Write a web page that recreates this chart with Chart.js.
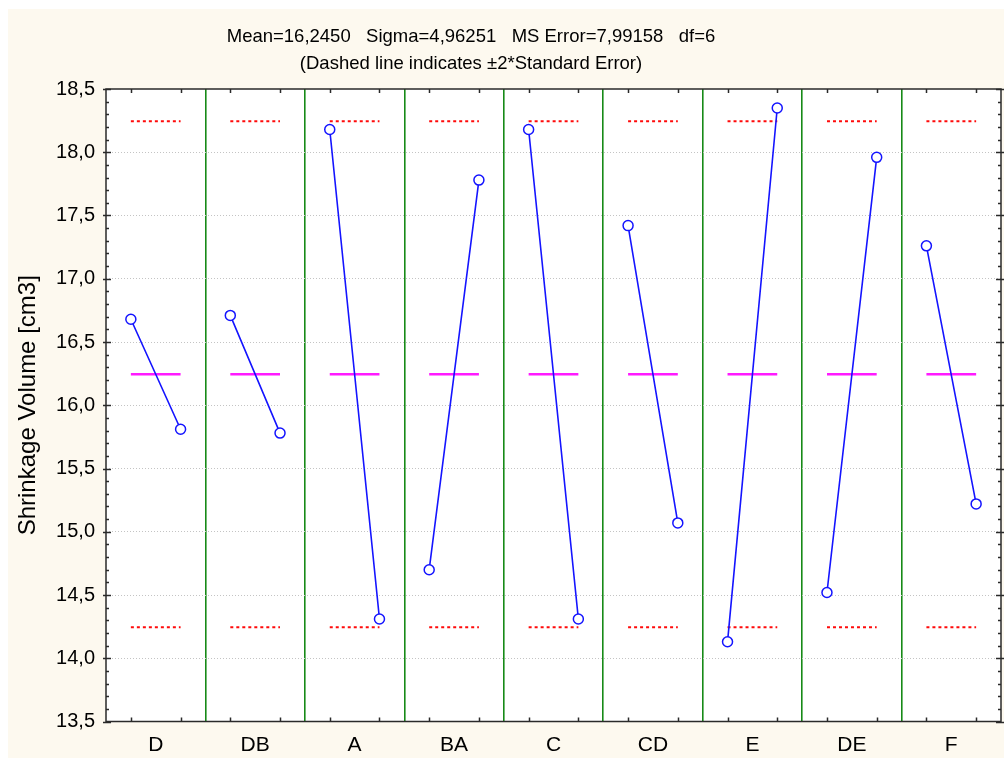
<!DOCTYPE html>
<html>
<head>
<meta charset="utf-8">
<title>Shrinkage Volume - means plot</title>
<script src="https://cdn.jsdelivr.net/npm/chart.js@4.4.1/dist/chart.umd.min.js"></script>
<style>
    body { margin: 0; background: #ffffff; }
    #meansChart { position: absolute; left: 8px; top: 9px; }
</style>
</head>
<body>
<canvas id="meansChart" width="996" height="749"></canvas>
<script>
// Factor levels
const factors = ['D', 'DB', 'A', 'BA', 'C', 'CD', 'E', 'DE', 'F'];
const lowLevelMeans = [16.68, 16.71, 18.18, 14.70, 18.18, 17.42, 14.13, 14.52, 17.26];
const highLevelMeans = [15.81, 15.78, 14.31, 17.78, 14.31, 15.07, 18.35, 17.96, 15.22];

const grandMean = 16.245;
const upperLimit = 18.245; // mean + 2*SE
const lowerLimit = 14.245; // mean - 2*SE

const yTickValues = [13.5, 14.0, 14.5, 15.0, 15.5, 16.0, 16.5, 17.0, 17.5, 18.0, 18.5];
const titleLines = [
    'Mean=16,2450   Sigma=4,96251   MS Error=7,99158   df=6',
    '(Dashed line indicates \u00b12*Standard Error)'
];
const yAxisTitle = 'Shrinkage Volume [cm3]';

const FONT = '"Liberation Sans", Arial, sans-serif';

/**
 * Two points per factor (low / high level) plus short horizontal segments,
 * separated by null points so the line breaks between panels
 */
function buildFactorLines() {
    const pts = [];
    factors.forEach(function (f, i) {
        pts.push({ x: i + 0.25, y: lowLevelMeans[i] });
        pts.push({ x: i + 0.75, y: highLevelMeans[i] });
        pts.push({ x: i + 0.8, y: null });
    });
    return pts;
}

function buildSegments(value) {
    const pts = [];
    factors.forEach(function (f, i) {
        pts.push({ x: i + 0.25, y: value });
        pts.push({ x: i + 0.75, y: value });
        pts.push({ x: i + 0.8, y: null });
    });
    return pts;
}

// cream page, white plot area
const backgroundPlugin = {
    id: 'background',
    beforeDraw: function (chart) {
        const ctx = chart.ctx;
        const a = chart.chartArea;
        ctx.save();
        ctx.fillStyle = '#fdf9ef';
        ctx.fillRect(0, 0, chart.width, chart.height);
        ctx.fillStyle = '#ffffff';
        ctx.fillRect(a.left, a.top, a.right - a.left, a.bottom - a.top);
        ctx.restore();
    }
};

// frame, inward tick marks and the two-line header
const framePlugin = {
    id: 'frame',
    afterDraw: function (chart) {
        const ctx = chart.ctx;
        const a = chart.chartArea;
        const xs = chart.scales.x;
        const ys = chart.scales.y;
        ctx.save();
        ctx.strokeStyle = '#2a2a2a';
        ctx.lineWidth = 1.5;

        // y ticks, left and right
        for (let k = 0; k <= 50; k++) {
            const v = ys.min + k * 0.1;
            const py = Math.round(ys.getPixelForValue(v)) + 0.5;
            const major = k % 5 === 0;
            ctx.beginPath();
            if (major) {
                ctx.moveTo(a.left - 3, py); ctx.lineTo(a.left + 5, py);
                ctx.moveTo(a.right - 5, py); ctx.lineTo(a.right + 3, py);
            } else {
                ctx.moveTo(a.left, py); ctx.lineTo(a.left + 3, py);
                ctx.moveTo(a.right - 3, py); ctx.lineTo(a.right, py);
            }
            ctx.stroke();
        }

        // x ticks at the two level positions of each factor
        factors.forEach(function (f, i) {
            [i + 0.25, i + 0.75].forEach(function (v) {
                const px = Math.round(xs.getPixelForValue(v)) + 0.5;
                ctx.beginPath();
                ctx.moveTo(px, a.top); ctx.lineTo(px, a.top + 4);
                ctx.moveTo(px, a.bottom); ctx.lineTo(px, a.bottom - 4);
                ctx.stroke();
            });
        });

        ctx.strokeRect(a.left, a.top, a.right - a.left, a.bottom - a.top);

        // header
        ctx.fillStyle = '#000000';
        ctx.font = '18.5px ' + FONT;
        ctx.textAlign = 'center';
        ctx.textBaseline = 'middle';
        ctx.fillText(titleLines[0], 463, 28);
        ctx.fillText(titleLines[1], 463, 54.5);
        ctx.restore();
    }
};

function initializeMeansChart() {
    const canvas = document.getElementById('meansChart');
    if (!canvas) return;

    const data = {
        datasets: [
            {
                label: 'Level means',
                data: buildFactorLines(),
                borderColor: '#1414ff',
                borderWidth: 1.6,
                pointRadius: 5,
                pointBorderWidth: 1.5,
                pointBackgroundColor: '#ffffff',
                pointBorderColor: '#1414ff',
                spanGaps: false,
                order: 0
            },
            {
                label: 'Grand mean',
                data: buildSegments(grandMean),
                borderColor: '#ff1aff',
                borderWidth: 2.5,
                pointRadius: 0,
                spanGaps: false,
                order: 1
            },
            {
                label: '+2 SE',
                data: buildSegments(upperLimit),
                borderColor: '#ff0a0a',
                borderWidth: 2,
                borderDash: [3, 3],
                pointRadius: 0,
                spanGaps: false,
                order: 2
            },
            {
                label: '-2 SE',
                data: buildSegments(lowerLimit),
                borderColor: '#ff0a0a',
                borderWidth: 2,
                borderDash: [3, 3],
                pointRadius: 0,
                spanGaps: false,
                order: 3
            }
        ]
    };

    const config = {
        type: 'line',
        data: data,
        options: {
            responsive: false,
            animation: false,
            events: [],
            layout: {
                autoPadding: false,
                padding: { top: 80, right: 3, left: 0, bottom: 0 }
            },
            scales: {
                x: {
                    type: 'linear',
                    min: 0,
                    max: factors.length,
                    afterFit: function (scale) {
                        scale.height = 36.5;
                        // tick padding would otherwise be reserved at both ends
                        scale.paddingLeft = 0;
                        scale.paddingRight = 0;
                    },
                    afterBuildTicks: function (scale) {
                        const t = [];
                        for (let i = 0; i <= factors.length; i++) {
                            t.push({ value: i });
                            if (i < factors.length) t.push({ value: i + 0.5 });
                        }
                        scale.ticks = t;
                    },
                    ticks: {
                        autoSkip: false,
                        maxRotation: 0,
                        padding: 11,
                        color: '#000000',
                        font: { family: FONT, size: 21 },
                        callback: function (value) {
                            const i = Math.floor(value);
                            return (value - i === 0.5) ? factors[i] : '';
                        }
                    },
                    grid: {
                        drawTicks: false,
                        lineWidth: 1.6,
                        color: function (context) {
                            const v = context.tick ? context.tick.value : 0;
                            if (Number.isInteger(v) && v > 0 && v < factors.length) return '#178a17';
                            return 'rgba(0,0,0,0)';
                        }
                    },
                    border: { display: false }
                },
                y: {
                    min: yTickValues[0],
                    max: yTickValues[yTickValues.length - 1],
                    afterFit: function (scale) { scale.width = 98; },
                    afterBuildTicks: function (scale) {
                        scale.ticks = yTickValues.map(function (v) { return { value: v }; });
                    },
                    ticks: {
                        padding: 11,
                        color: '#000000',
                        font: { family: FONT, size: 20 },
                        callback: function (value) {
                            return value.toFixed(1).replace('.', ',');
                        }
                    },
                    grid: {
                        drawTicks: false,
                        lineWidth: 1,
                        color: function (context) {
                            const v = context.tick ? context.tick.value : 0;
                            if (v <= yTickValues[0] || v >= yTickValues[yTickValues.length - 1]) return 'rgba(0,0,0,0)';
                            return '#c4c4c4';
                        }
                    },
                    border: { display: false, dash: [1, 2] },
                    title: {
                        display: true,
                        text: yAxisTitle,
                        color: '#000000',
                        font: { family: FONT, size: 24 },
                        padding: { top: 6, bottom: 0 }
                    }
                }
            },
            plugins: {
                legend: { display: false },
                tooltip: { enabled: false },
                title: { display: false }
            }
        },
        plugins: [backgroundPlugin, framePlugin]
    };

    new Chart(canvas, config);
}

document.addEventListener('DOMContentLoaded', function () {
    initializeMeansChart();
});
</script>
</body>
</html>
